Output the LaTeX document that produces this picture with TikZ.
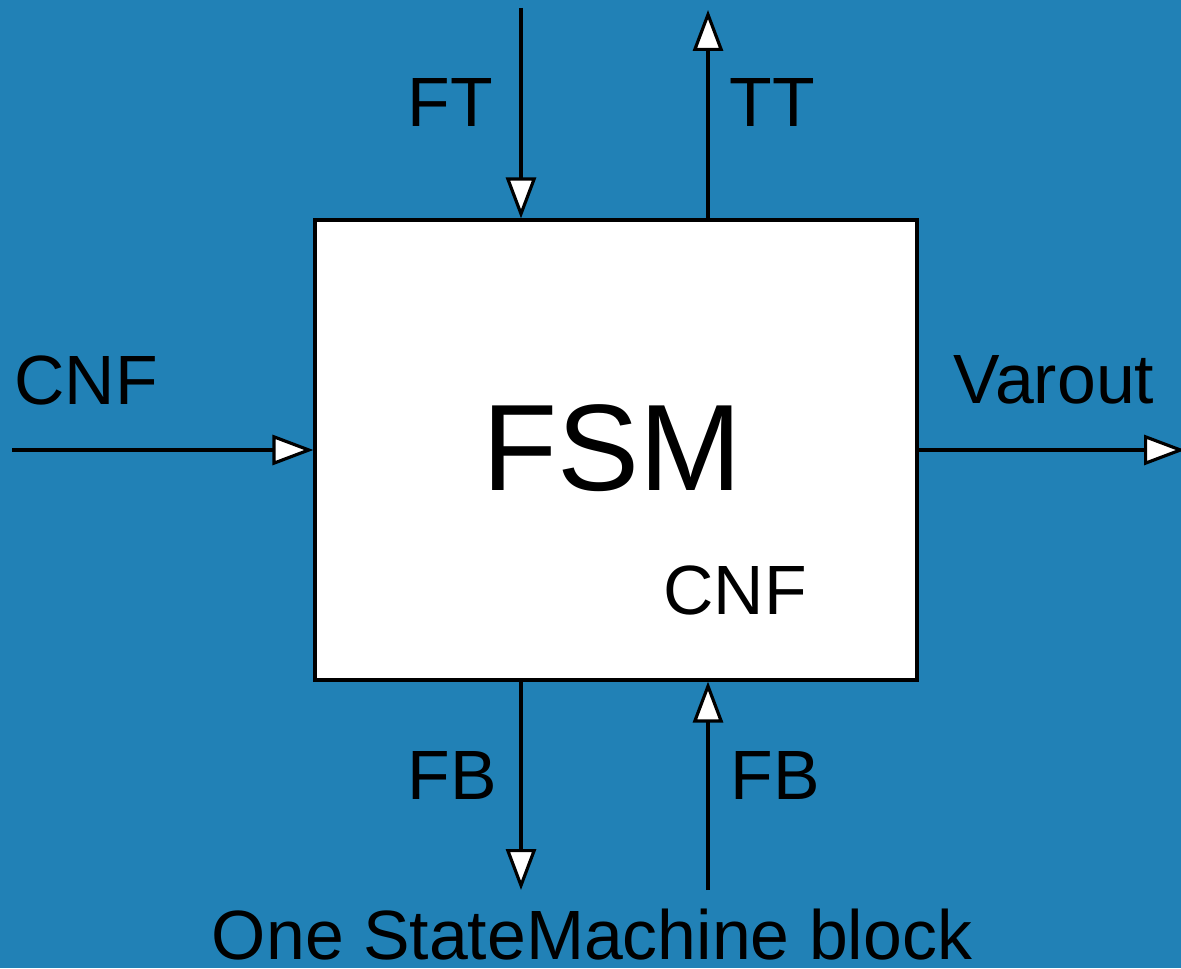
\documentclass[tikz,border=0pt]{standalone}
\usepackage{fontspec}
\setmainfont{Liberation Sans}
\usepackage{xcolor}
\usetikzlibrary{arrows.meta,calc,positioning}

\definecolor{bgblue}{HTML}{2181B6}

\begin{document}
\begin{tikzpicture}[
    x=1cm,
    y=1cm,
    font=\fontsize{39.7}{44}\selectfont,
    block/.style={draw=black,fill=white,line width=1.8pt,
                  minimum width=12.04cm,minimum height=9.2cm,
                  inner sep=0pt},
    sig/.style={-{Triangle[length=0.82cm,width=0.6cm,fill=white]},
                draw=black,line width=1.8pt},
    lbl/.style={inner sep=0pt,text=black}
]

\fill[bgblue] (0,0) rectangle (23.62,19.36);
\useasboundingbox (0,0) rectangle (23.62,19.36);

\node[block] (fsm) at (12.32,10.36) {};
\node[lbl,font=\fontsize{70}{80}\selectfont] (title) at (12.24,10.4) {FSM};
\node[lbl] (inner) at (14.7,7.56) {CNF};

\coordinate (ftin)  at (10.42,19.20);
\coordinate (ttout) at (14.16,19.16);
\coordinate (cnfin) at (0.24,10.36);
\coordinate (vout)  at (23.70,10.36);
\coordinate (fbout) at (10.42,1.56);
\coordinate (fbin)  at (14.16,1.56);

\draw[sig] (ftin) -- (ftin |- fsm.north);
\draw[sig] (ttout |- fsm.north) -- (ttout);
\draw[sig] (cnfin) -- (cnfin -| fsm.west);
\draw[sig] (vout -| fsm.east) -- (vout);
\draw[sig] (fbout |- fsm.south) -- (fbout);
\draw[sig] (fbin) -- (fbin |- fsm.south);

\node[lbl] (ft)   at (9.0,17.3)  {FT};
\node[lbl] (tt)   at (15.44,17.3) {TT};
\node[lbl] (cnf)  at (1.72,11.76) {CNF};
\node[lbl] (var)  at (21.08,11.76) {Varout};
\node[lbl] (fbl)  at (9.04,3.86) {FB};
\node[lbl] (fbr)  at (15.5,3.86) {FB};
\node[lbl] (caption) at (11.84,0.66) {One StateMachine block};

\end{tikzpicture}
\end{document}
